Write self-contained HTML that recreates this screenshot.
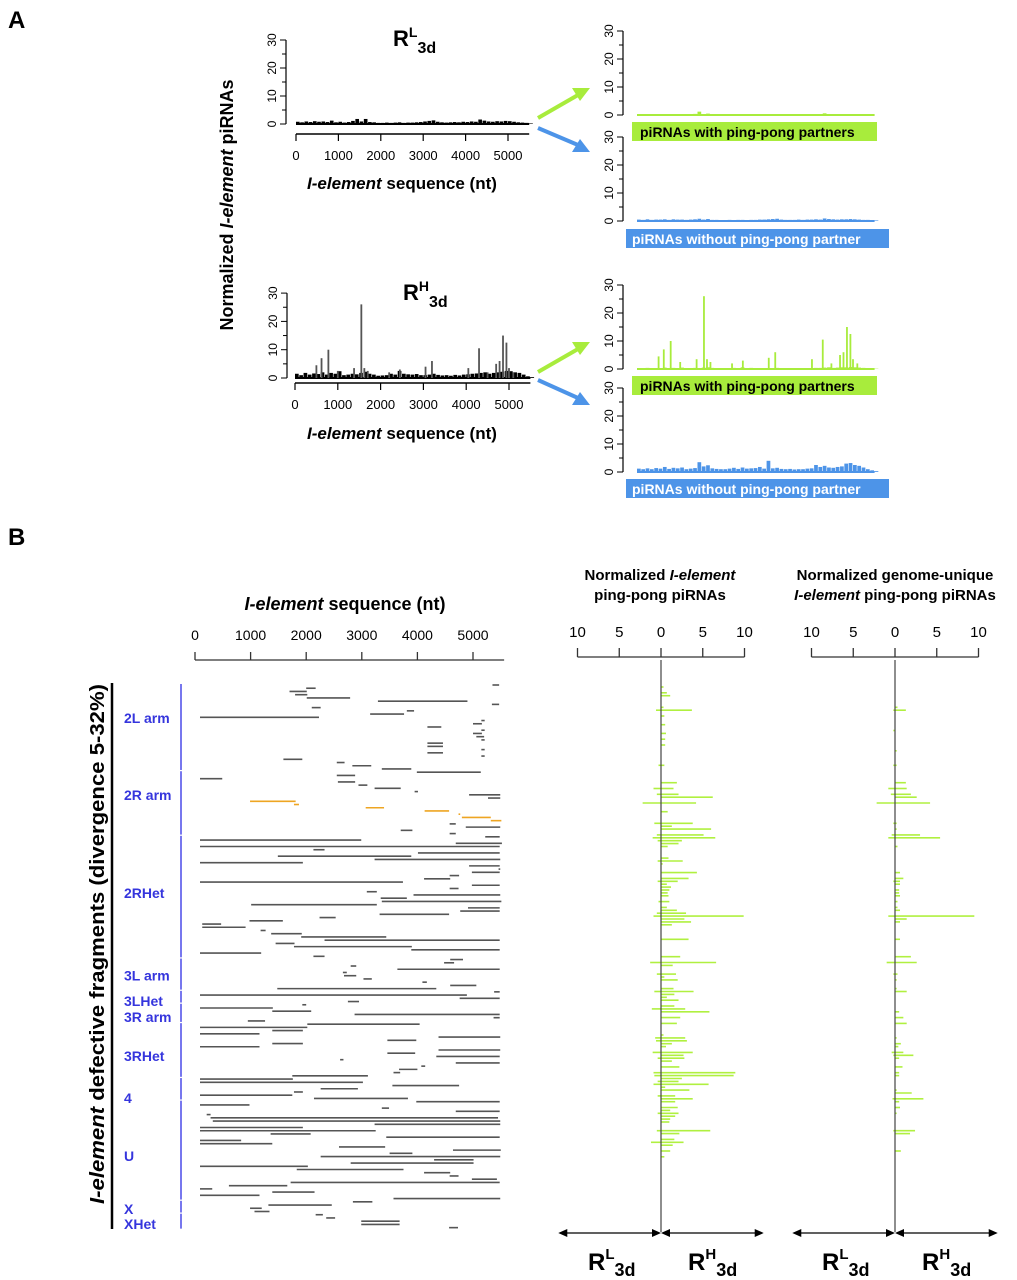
<!DOCTYPE html>
<html><head><meta charset="utf-8"><style>
body{margin:0;background:#fff}
svg{display:block;font-family:"Liberation Sans",sans-serif}
</style></head><body>
<svg id="fig" width="1017" height="1280" viewBox="0 0 1017 1280" xmlns="http://www.w3.org/2000/svg">
<g id="static">
<text x="8" y="28" font-size="24" font-weight="bold">A</text>
<text x="8" y="545" font-size="24" font-weight="bold">B</text>
<text transform="translate(233,205) rotate(-90)" text-anchor="middle" font-size="18" font-weight="bold">Normalized <tspan font-style="italic">I-element</tspan> piRNAs</text>
<text x="393" y="46" font-size="22" font-weight="bold">R<tspan font-size="14" dy="-9">L</tspan><tspan font-size="16" dy="16">3d</tspan></text>
<text x="403" y="300" font-size="22" font-weight="bold">R<tspan font-size="14" dy="-9">H</tspan><tspan font-size="16" dy="16">3d</tspan></text>
<text x="402" y="189" text-anchor="middle" font-size="17" font-weight="bold"><tspan font-style="italic">I-element</tspan> sequence (nt)</text>
<text x="402" y="439" text-anchor="middle" font-size="17" font-weight="bold"><tspan font-style="italic">I-element</tspan> sequence (nt)</text>
<rect x="632" y="122" width="245" height="19" fill="#a8ec3c"/>
<text x="640" y="137" font-size="14" font-weight="bold">piRNAs with ping-pong  partners</text>
<rect x="626" y="229" width="263" height="19" fill="#4d94e8"/>
<text x="632" y="244" font-size="14" font-weight="bold" fill="#fff">piRNAs without ping-pong  partner</text>
<rect x="632" y="376" width="245" height="19" fill="#a8ec3c"/>
<text x="640" y="391" font-size="14" font-weight="bold">piRNAs with ping-pong  partners</text>
<rect x="626" y="479" width="263" height="19" fill="#4d94e8"/>
<text x="632" y="494" font-size="14" font-weight="bold" fill="#fff">piRNAs without ping-pong  partner</text>
<g stroke-width="4" fill="none">
<line x1="538" y1="118" x2="578" y2="95" stroke="#a8ec3c"/>
<polygon points="590,88 572,88 580,101" fill="#a8ec3c" stroke="none"/>
<line x1="538" y1="128" x2="578" y2="145" stroke="#4d94e8"/>
<polygon points="590,152 572,152 580,139" fill="#4d94e8" stroke="none"/>
<line x1="538" y1="372" x2="578" y2="349" stroke="#a8ec3c"/>
<polygon points="590,342 572,342 580,355" fill="#a8ec3c" stroke="none"/>
<line x1="538" y1="380" x2="578" y2="398" stroke="#4d94e8"/>
<polygon points="590,405 572,405 580,392" fill="#4d94e8" stroke="none"/>
</g>
<text x="345" y="610" text-anchor="middle" font-size="18" font-weight="bold"><tspan font-style="italic">I-element</tspan> sequence (nt)</text>
<line x1="112" y1="683" x2="112" y2="1229" stroke="#000" stroke-width="2.5"/>
<text transform="translate(104,944) rotate(-90)" text-anchor="middle" font-size="20" font-weight="bold" textLength="520" lengthAdjust="spacingAndGlyphs"><tspan font-style="italic">I-element</tspan> defective  fragments (divergence 5-32%)</text>
<text x="660" y="580" text-anchor="middle" font-size="15" font-weight="bold">Normalized <tspan font-style="italic">I-element</tspan></text>
<text x="660" y="600" text-anchor="middle" font-size="15" font-weight="bold">ping-pong piRNAs</text>
<text x="895" y="580" text-anchor="middle" font-size="15" font-weight="bold">Normalized genome-unique</text>
<text x="895" y="600" text-anchor="middle" font-size="15" font-weight="bold"><tspan font-style="italic">I-element</tspan> ping-pong piRNAs</text>
</g>
<g id="dyn"></g>
</svg>
<script>
// ---------- Panel A data ----------
const rhSpikeNt = [500,620,780,1000,1380,1550,1620,1700,2200,2450,3050,3200,4050,4300,4500,4700,4780,4860,4940,5000,5100];
const rhSpikeVal = [4.5,7,10,2.5,3.5,26,3.5,2.5,2,3,4,6,3.5,10.5,2,5,6,15,12.5,3.5,2];
const rhNoise = [1.5,1,1.8,1.2,1.6,1.4,2,1.2,1.8,1.5,2.4,1,1.2,1.5,1.3,1.8,2.2,1.5,1.2,0.8,0.9,1,1.5,1.2,2.5,1.5,1.3,1.2,1.4,1,1,1.2,1.5,1.1,0.9,1,0.8,1.1,0.9,1.2,1.3,1.5,1.6,1.8,2,1.5,1.8,2,2.2,2.5,2.4,2,1.8,1.2,0.6,0.3];
const rlNoise = [0.8,0.6,0.9,0.7,1,0.8,0.9,0.7,1.2,0.6,0.8,0.5,0.7,1.1,1.8,0.9,1.8,0.7,0.6,0.4,0.4,0.5,0.4,0.5,0.6,0.4,0.5,0.5,0.6,0.7,0.9,1.1,1.3,0.8,0.6,0.5,0.6,0.7,0.6,0.8,0.7,0.9,0.8,1.6,1.2,0.9,0.8,1,0.9,1.1,1,0.8,0.6,0.5,0.4,0.2];
const gRlNoise = [0,0,0.2,0,0,0,0,0,0.3,0,0,0,0,0.4,1.2,0,0.5,0,0,0,0,0,0,0,0,0,0,0,0,0,0,0.2,0,0,0,0,0,0,0,0,0,0,0,0.6,0.2,0,0,0,0,0,0,0,0,0,0,0];
const bRlNoise = [0.5,0.4,0.6,0.4,0.5,0.5,0.6,0.4,0.6,0.5,0.5,0.4,0.5,0.6,0.8,0.5,0.7,0.4,0.4,0.3,0.3,0.4,0.3,0.4,0.4,0.3,0.4,0.4,0.5,0.5,0.6,0.7,0.8,0.5,0.4,0.4,0.4,0.5,0.4,0.5,0.5,0.6,0.5,0.9,0.7,0.6,0.5,0.6,0.6,0.7,0.6,0.5,0.4,0.4,0.3,0.2];
const gRhNoise = [0.3,0.2,0.4,0.3,0.2,0.3,0.5,0.3,0.4,0.2,0.5,0.3,0.2,0.4,0.3,0.5,0.6,0.4,0.3,0.2,0.2,0.3,0.4,0.2,0.6,0.3,0.4,0.3,0.3,0.2,0.2,0.3,0.4,0.3,0.2,0.2,0.2,0.3,0.2,0.3,0.3,0.4,0.4,0.5,0.6,0.4,0.5,0.6,0.6,0.7,0.6,0.5,0.4,0.3,0.2,0.1];
const bRhNoise = [1.2,1,1.3,1,1.4,1.2,1.8,1.1,1.5,1.3,1.6,1,1.2,1.4,3.5,2,2.4,1.3,1.1,1,1,1.2,1.5,1.1,1.6,1.2,1.3,1.4,1.8,1.2,4,1.3,1.5,1.1,1,1.1,0.9,1,1,1.2,1.3,2.5,1.8,2.2,1.6,1.5,1.8,2,3,3.2,2.5,2.2,1.6,1,0.6,0.3];
const yTicksA = [0,10,20,30];
const xTicksA = [0,1000,2000,3000,4000,5000];
// ---------- Panel B data ----------
const fragStart = [5350,2000,1700,1800,2010,3290,5340,2100,3810,3150,90,5150,5000,4180,5150,5000,5060,5150,4180,4180,5150,4180,5150,1590,2550,2830,3360,3990,2550,90,2570,2940,3230,3950,4930,5270,990,1780,3070,4130,4740,4800,5320,4580,4870,3700,4580,5220,90,4690,90,2130,4010,1490,3230,90,4930,5460,4980,4580,4120,90,4980,4580,3090,3930,3340,3360,1010,4910,4770,3320,2240,980,130,130,1180,1370,1910,2330,1450,1780,3890,90,2130,4590,4480,2800,3640,2660,2680,3030,4090,4590,1480,5380,90,4760,2750,1930,90,1390,2870,5370,950,2020,90,1390,90,4380,3460,1390,90,4380,3460,4340,2610,4690,4070,3670,3570,1750,90,90,3550,2260,1780,90,2140,3980,90,3360,4690,210,280,320,3230,90,90,1360,3440,90,90,2590,4640,3500,2260,4300,2800,90,1830,4120,4580,4980,1720,610,90,1390,90,3570,2840,1320,990,1070,2170,2360,2990,2990,4570];
const fragEnd = [5470,2170,2010,2020,2790,4900,5470,2260,3940,3760,2230,5210,5160,4430,5210,5160,5200,5210,4460,4460,5210,4460,5210,1930,2690,3170,3890,5140,2880,490,2880,3100,3700,4010,5490,5490,1810,1870,3400,4570,4770,5320,5510,4690,5490,3910,4690,5480,2990,5520,5480,2330,5480,3890,5490,1940,5480,5490,5480,4750,4590,3740,5480,4740,3270,5490,3810,5510,3270,5480,5480,4570,2530,1580,470,910,1270,1920,3440,5480,1790,3900,5480,1190,2330,4820,4660,2900,5480,2730,2900,3180,4170,5060,4340,5480,4890,5480,2950,2000,1400,2090,5480,5480,1260,4040,2020,1940,1160,5490,3980,1940,1160,5490,3960,5480,2670,5480,4140,4000,3690,3110,1760,3020,4750,2930,1940,1750,3830,5480,980,3490,5480,280,5450,5490,5490,1940,3250,2080,5480,830,1390,3420,5500,3910,5490,5010,5010,2030,3750,4590,4740,5430,5480,1660,310,2150,1160,5490,3190,2460,1200,1340,2300,2520,3680,3680,4730];
const orangeRows = [36,37,38,39,40,41,42];
const fragTicks = [0,1000,2000,3000,4000,5000];
const chromNames = ["2L arm","2R arm","2RHet","3L arm","3LHet","3R arm","3RHet","4","U","X","XHet"];
const chromFirstRow = [0,27,47,85,95,99,105,122,129,160,164];
const chromLastRow = [26,46,84,94,98,104,121,128,159,163,168];
const chromLabelRow = [10.2,34,64.4,90,97.8,102.8,114.9,127.9,145.8,162.3,166.8];
// bar chart 1: all ping-pong piRNAs
const bar1Row = [0,2,3,7,8,10,13,16,18,20,27,33,35,37,38,40,43,47,48,49,51,52,53,54,55,59,60,61,64,66,67,68,69,70,71,72,74,76,77,78,79,80,81,82,87,93,95,96,99,100,101,104,105,106,107,108,110,111,112,114,116,120,121,122,123,124,126,127,128,129,131,133,134,135,136,137,138,139,141,142,143,145,146,147,148,149,150,153,154,156,157,158,160,162];
const bar1RH = [0.3,0.7,1.1,0.3,3.7,0.4,0.5,0.6,0.5,0.5,0.4,1.9,1.5,2.1,6.2,4.2,0.8,3.8,1.3,6.0,5.1,6.5,2.5,2.1,0.8,0.9,2.6,0.2,4.3,3.3,2.0,0.7,1.2,1.0,0.8,0.9,1.0,0.7,1.9,3.0,9.9,2.8,3.6,1.3,3.3,2.3,6.6,1.4,1.8,0.4,2.0,1.5,3.9,1.6,0.7,2.1,1.6,2.9,5.8,2.3,1.9,0.3,2.9,3.1,1.3,0.6,3.8,2.7,2.8,1.3,2.2,8.9,8.7,2.5,2.1,5.7,0.5,3.4,1.7,3.8,1.7,2.0,1.1,2.1,1.7,1.1,1.0,5.9,2.2,1.6,2.7,1.4,1.1,0.4];
const bar1RL = [0,0,0,0,0.6,0,0,0,0,0,0.3,0,0.9,0.5,0,2.2,0,0.8,0,0,0.5,1.0,0.4,0,0,0,0.4,0,0,0,0.4,0,0,0,0,0,0.3,0,0,0.5,0.9,0,0,0,0,0,1.3,0,0.5,0,0,0,0.8,0,0,0,0,1.1,0,0,0,0,0.7,0.6,0,0,1.0,0,0.4,0,0,0.9,0.8,0,0.4,0.9,0,0,0.4,0,0,0,0,0.4,0,0,0,0.5,0,0,1.2,0,0,0];
// bar chart 2: genome-unique ping-pong piRNAs
const bar2Row = [7,8,15,22,27,33,35,37,38,40,47,49,51,52,55,64,66,67,68,70,71,72,74,76,77,79,80,81,87,93,95,99,101,104,105,112,114,116,121,123,124,126,127,128,131,133,134,139,140,142,143,145,147,153,154,160];
const bar2RH = [0.3,1.3,0,0.2,0.2,1.3,1.4,1.9,2.6,4.2,0.2,0.2,3.0,5.4,0.3,0.6,1.0,0.6,0.6,0.5,0.5,0.6,0.3,0.3,0.6,9.5,1.4,0.6,0.6,1.9,2.6,0.3,0.2,0.2,1.4,0.5,1.0,1.4,0.2,0.7,0.4,1.0,2.2,0.5,0.9,0.5,0.5,0.2,2.0,3.4,0.5,0.6,0.2,2.4,1.8,0.7];
const bar2RL = [0,0.2,0.2,0,0.2,0,0.8,0.5,0,2.2,0.2,0,0.4,0.8,0,0,0,0.2,0,0,0,0,0,0,0,0.8,0,0,0,0,1.0,0.2,0,0,0,0,0,0,0,0,0,0.4,0.2,0,0,0,0,0,0,0.3,0,0,0,0.2,0,0];
const barTicks = [10,5,0,5,10];
const barTickVals = [-10,-5,0,5,10];

const NS = "http://www.w3.org/2000/svg";
const dyn = document.getElementById('dyn');
function mk(tag, attrs, parent){const e=document.createElementNS(NS,tag);for(const k in attrs)e.setAttribute(k,attrs[k]);(parent||dyn).appendChild(e);return e;}
function txt(x,y,s,size,anchor,parent){const t=mk('text',{x:x,y:y,'font-size':size,'text-anchor':anchor||'middle'},parent);t.textContent=s;return t;}

function tracePlot(cfg){
  const g=mk('g',{});
  
  
  const xs=nt=>cfg.x0+nt*cfg.kx, ys=v=>cfg.y0-v*cfg.ky;
  const ya=mk('line',{x1:cfg.ax,y1:ys(0),x2:cfg.ax,y2:ys(30),stroke:'#000','stroke-width':1.2},g);
  
  
  for(let v=0;v<=30;v+=5){mk('line',{x1:cfg.ax-(v%10?4:6),y1:ys(v),x2:cfg.ax,y2:ys(v),stroke:'#000','stroke-width':1},g);}
  yTicksA.forEach(v=>{const t=mk('text',{transform:`translate(${cfg.ax-10},${ys(v)}) rotate(-90)`,'font-size':12,'text-anchor':'middle'},g);t.textContent=v;
    
    });
  if(cfg.xaxis){
    const xa=mk('line',{x1:xs(0),y1:cfg.xay,x2:xs(5500),y2:cfg.xay,stroke:'#000','stroke-width':1.5},g);
    
    
    xTicksA.forEach(v=>{mk('line',{x1:xs(v),y1:cfg.xay,x2:xs(v),y2:cfg.xay+7,stroke:'#000','stroke-width':1.2},g);
      const t=txt(xs(v),cfg.xay+26,v,13,'middle',g);
      
      });
  }
  mk('line',{x1:xs(0),y1:ys(0),x2:xs(5500),y2:ys(0),stroke:cfg.color,'stroke-width':2},g);
  cfg.noise.forEach((v,i)=>{if(v<=0)return;const r=mk('rect',{x:xs(i*100),y:ys(v),width:Math.max(100*cfg.kx-0.6,1),height:v*cfg.ky,fill:cfg.color},g);
    
    });
  (cfg.spNt||[]).forEach((nt,i)=>{const l=mk('line',{x1:xs(nt),y1:ys(0),x2:xs(nt),y2:ys(cfg.spVal[i]),stroke:cfg.spColor||cfg.color,'stroke-width':1.8},g);
    
    });
}
tracePlot({name:'rl-total-plot',ax:286,x0:296,kx:0.0424,y0:124,ky:2.8,xaxis:true,xay:134,color:'#000',noise:rlNoise});
tracePlot({name:'rh-total-plot',ax:287,x0:295,kx:0.0428,y0:378,ky:2.83,xaxis:true,xay:383,color:'#000',noise:rhNoise,spNt:rhSpikeNt,spVal:rhSpikeVal,spColor:'#555'});
tracePlot({name:'rl-pingpong-plot',ax:623,x0:637,kx:0.0432,y0:115,ky:2.8,color:'#a8ec3c',noise:gRlNoise});
tracePlot({name:'rl-nopingpong-plot',ax:623,x0:637,kx:0.0432,y0:221,ky:2.8,color:'#4d94e8',noise:bRlNoise});
tracePlot({name:'rh-pingpong-plot',ax:623,x0:637,kx:0.0432,y0:369,ky:2.8,color:'#a8ec3c',noise:gRhNoise,spNt:rhSpikeNt,spVal:rhSpikeVal});
tracePlot({name:'rh-nopingpong-plot',ax:623,x0:637,kx:0.0432,y0:472,ky:2.8,color:'#4d94e8',noise:bRhNoise});

// ---------- fragments ----------
const fx=nt=>195+nt*0.0556, fy=r=>685+r*3.23;
const fa=mk('g',{});


mk('line',{x1:fx(0),y1:660,x2:fx(5560),y2:660,stroke:'#333','stroke-width':1.3},fa);
fragTicks.forEach(v=>{mk('line',{x1:fx(v),y1:652,x2:fx(v),y2:660,stroke:'#333','stroke-width':1.3},fa);
  const t=txt(fx(v),640,v,14,'middle',fa);
  
  });
fragStart.forEach((s,i)=>{
  const l=mk('line',{x1:fx(s),y1:fy(i),x2:fx(fragEnd[i]),y2:fy(i),stroke:orangeRows.includes(i)?'#eea522':'#555','stroke-width':1.6});
  
  
});
chromNames.forEach((n,i)=>{
  const l=mk('line',{x1:181,y1:fy(chromFirstRow[i])-1,x2:181,y2:fy(chromLastRow[i])+1,stroke:'#7777ee','stroke-width':2});
  
  
  const t=txt(124,fy(chromLabelRow[i])+5,n,14,'start');
  t.setAttribute('fill','#3535dd');t.setAttribute('font-weight','bold');
  
  
});

// ---------- bar charts ----------
function barChart(name,cx,rows,rh,rl){
  const g=mk('g',{});
  
  
  const bx=v=>cx+v*8.35, by=r=>687+r*2.9;
  mk('line',{x1:bx(-10),y1:657,x2:bx(10),y2:657,stroke:'#333','stroke-width':1.3},g);
  barTickVals.forEach((v,i)=>{mk('line',{x1:bx(v),y1:648,x2:bx(v),y2:657,stroke:'#333','stroke-width':1.3},g);
    const t=txt(bx(v),637,barTicks[i],15,'middle',g);
    
    });
  rows.forEach((r,i)=>{
    if(rh[i]>0){const b=mk('line',{x1:bx(0),y1:by(r),x2:bx(rh[i]),y2:by(r),stroke:'#b0f040','stroke-width':1.6},g);
      
      }
    if(rl[i]>0){const b=mk('line',{x1:bx(0),y1:by(r),x2:bx(-rl[i]),y2:by(r),stroke:'#b0f040','stroke-width':1.6},g);
      
      }
  });
  mk('line',{x1:cx,y1:660,x2:cx,y2:1232,stroke:'#444','stroke-width':1.2},g);
  const y=1233;
  [[bx(-12.3),cx],[cx,bx(12.3)]].forEach(p=>{
    mk('line',{x1:p[0]+2,y1:y,x2:p[1]-2,y2:y,stroke:'#000','stroke-width':1.3},g);
    mk('polygon',{points:`${p[0]},${y} ${p[0]+9},${y-4} ${p[0]+9},${y+4}`,fill:'#000'},g);
    mk('polygon',{points:`${p[1]},${y} ${p[1]-9},${y-4} ${p[1]-9},${y+4}`,fill:'#000'},g);
  });
  [['L',cx-73],['H',cx+27]].forEach(a=>{
    const t=mk('text',{x:a[1],y:1270,'font-size':24,'font-weight':'bold'},g);
    t.innerHTML=`R<tspan font-size="15" dy="-11">${a[0]}</tspan><tspan font-size="18" dy="17">3d</tspan>`;
    
    
  });
}
barChart('pingpong-bar-chart',661,bar1Row,bar1RH,bar1RL);
barChart('unique-bar-chart',895,bar2Row,bar2RH,bar2RL);
</script>
</body></html>
